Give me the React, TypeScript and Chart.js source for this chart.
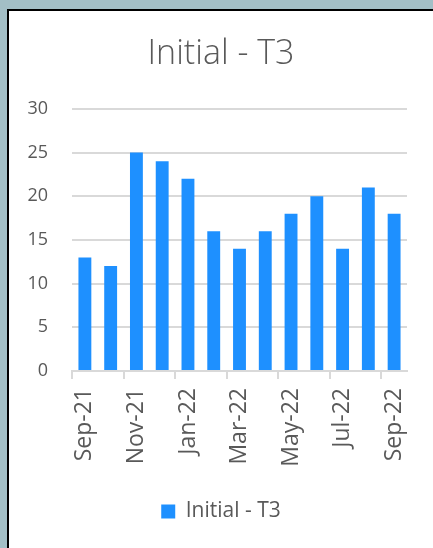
import React, { useEffect, useRef } from 'react';
import { Chart, registerables } from 'chart.js';
Chart.register(...registerables);

const categories = ['Sep-21', 'Oct-21', 'Nov-21', 'Dec-21', 'Jan-22', 'Feb-22', 'Mar-22', 'Apr-22', 'May-22', 'Jun-22', 'Jul-22', 'Aug-22', 'Sep-22'];
const t3Values = [13, 12, 25, 24, 22, 16, 14, 16, 18, 20, 14, 21, 18];
const seriesName = 'Initial - T3';
const yMin = 0;
const yMax = 30;
const yStep = 5;

const FONT = "'Open Sans', 'DejaVu Sans', sans-serif";
const TEXT = '#595959';
const GRID = '#d9d9d9';

export default function App() {
  const ref = useRef<HTMLCanvasElement>(null);
  useEffect(() => {
    document.body.style.margin = '0';
    const chart = new Chart(ref.current!, {
      type: 'bar',
      data: {
        labels: categories,
        datasets: [
          {
            label: seriesName,
            data: t3Values,
            backgroundColor: '#1e90ff',
            borderWidth: 0,
            barPercentage: 0.5,
            categoryPercentage: 1,
          },
        ],
      },
      options: {
        responsive: false,
        animation: false,
        layout: { padding: { left: 8, right: 8, top: 0, bottom: 16 } },
        plugins: {
          title: {
            display: true,
            text: seriesName,
            color: TEXT,
            font: { family: FONT, size: 34, weight: '300' as any },
            padding: { top: 23, bottom: 34 },
          },
          legend: {
            display: true,
            position: 'bottom',
            labels: {
              color: TEXT,
              font: { family: FONT, size: 21 },
              boxWidth: 14,
              boxHeight: 14,
              padding: 10,
            },
          },
          tooltip: { enabled: false },
        },
        scales: {
          x: {
            offset: true,
            afterFit: (scale: any) => {
              scale.height = 120;
            },
            grid: {
              offset: true,
              drawOnChartArea: false,
              drawTicks: true,
              tickLength: 8,
              color: (ctx: any) => (ctx.index % 2 === 0 ? GRID : 'rgba(0,0,0,0)'),
              lineWidth: 2,
            },
            border: { display: true, color: GRID, width: 2 },
            ticks: {
              autoSkip: false,
              maxRotation: 90,
              minRotation: 90,
              padding: 9,
              color: TEXT,
              font: { family: FONT, size: 23 },
              callback: (_v: any, i: number) => (i % 2 === 0 ? categories[i] : ''),
            },
          },
          y: {
            min: yMin,
            max: yMax,
            afterFit: (scale: any) => {
              scale.width = 55;
            },
            grid: { color: GRID, lineWidth: 2, drawTicks: false },
            border: { display: false },
            ticks: {
              stepSize: yStep,
              padding: 24,
              color: TEXT,
              font: { family: FONT, size: 18 },
            },
          },
          yRightSpace: {
            display: true,
            position: 'right',
            min: yMin,
            max: yMax,
            afterFit: (scale: any) => {
              scale.width = 18;
            },
            grid: { display: false, drawTicks: false },
            border: { display: false },
            ticks: { display: false },
          },
        },
      },
    });
    return () => chart.destroy();
  }, []);
  return (
    <div style={{ position: 'relative', width: 433, height: 548, background: '#a3bfc6', overflow: 'hidden' }}>
      <div
        style={{
          position: 'absolute',
          left: 7,
          top: 9,
          right: 0,
          bottom: 0,
          borderLeft: '2px solid #000',
          borderTop: '2px solid #000',
          background: '#fff',
        }}
      >
        <canvas ref={ref} width={424} height={537} style={{ display: 'block', width: 424, height: 537 }} />
      </div>
    </div>
  );
}
